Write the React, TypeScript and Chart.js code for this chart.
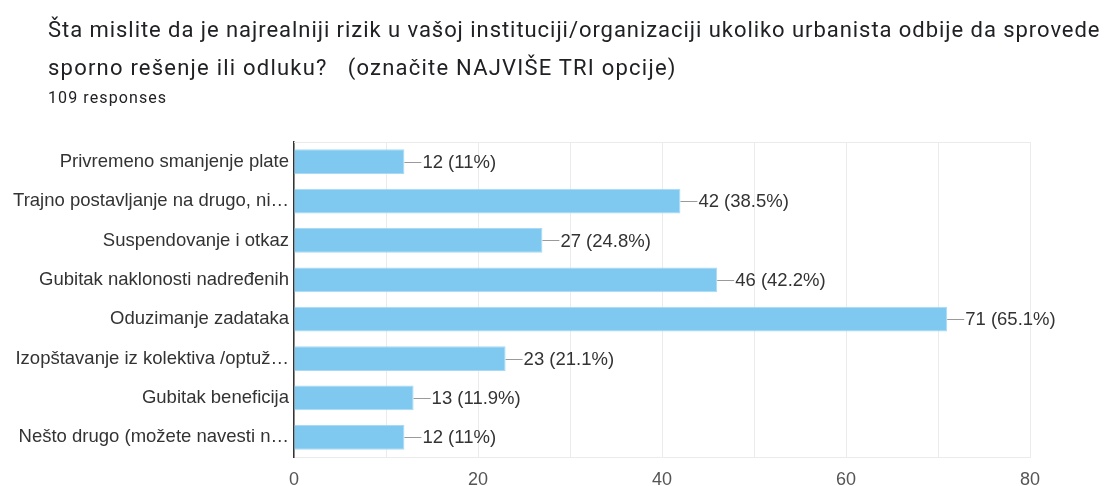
import React, { useEffect, useRef } from "react";
import { Chart, registerables } from "chart.js";

Chart.register(...registerables);

const titleLines = [
  "Šta mislite da je najrealniji rizik u vašoj instituciji/organizaciji ukoliko urbanista odbije da sprovede",
  "sporno rešenje ili odluku?   (označite NAJVIŠE TRI opcije)",
];
const titleSpacing = ["0.95px", "1.22px"];
const subtitle = "109 responses";

const categories = [
  "Privremeno smanjenje plate",
  "Trajno postavljanje na drugo, ni…",
  "Suspendovanje i otkaz",
  "Gubitak naklonosti nadređenih",
  "Oduzimanje zadataka",
  "Izopštavanje iz kolektiva /optuž…",
  "Gubitak beneficija",
  "Nešto drugo (možete navesti n…",
];
const counts = [12, 42, 27, 46, 71, 23, 13, 12];
const percents = ["11", "38.5", "24.8", "42.2", "65.1", "21.1", "11.9", "11"];
const xTickLabels = [0, 20, 40, 60, 80];

const FONT = "'Liberation Sans', Arial, sans-serif";

export default function App() {
  const ref = useRef<HTMLCanvasElement | null>(null);

  useEffect(() => {
    if (!ref.current) return;
    const labelPlugin = {
      id: "barLabels",
      beforeDatasetsDraw(chart: any) {
        const { ctx, chartArea } = chart;
        ctx.save();
        ctx.strokeStyle = "#ebebeb";
        ctx.lineWidth = 1;
        ctx.beginPath();
        ctx.moveTo(chartArea.left, Math.round(chartArea.top) + 0.5);
        ctx.lineTo(chartArea.right, Math.round(chartArea.top) + 0.5);
        ctx.stroke();
        ctx.restore();
      },
      afterDatasetsDraw(chart: any) {
        const { ctx } = chart;
        const meta = chart.getDatasetMeta(0);
        ctx.save();
        ctx.font = `18.5px ${FONT}`;
        ctx.textBaseline = "middle";
        ctx.textAlign = "left";
        meta.data.forEach((bar: any, i: number) => {
          const { x, y } = bar.getProps(["x", "y"], true);
          const yy = Math.round(y) + 0.5;
          ctx.strokeStyle = "#9a9a9a";
          ctx.lineWidth = 1;
          ctx.beginPath();
          ctx.moveTo(x, yy);
          ctx.lineTo(x + 17, yy);
          ctx.stroke();
          ctx.fillStyle = "#333333";
          ctx.fillText(`${counts[i]} (${percents[i]}%)`, x + 18, y + 1);
        });
        ctx.restore();
      },
    };

    const chart = new Chart(ref.current, {
      type: "bar",
      data: {
        labels: categories,
        datasets: [
          {
            data: counts,
            backgroundColor: "#7fc8ef",
            borderColor: "#a9daf5",
            borderWidth: 1,
            categoryPercentage: 1,
            barPercentage: 0.63,
          },
        ],
      },
      options: {
        indexAxis: "y",
        responsive: false,
        animation: false,
        devicePixelRatio: 1,
        layout: { padding: { top: 142, right: 79, left: 0, bottom: 0 } },
        plugins: {
          legend: { display: false },
          tooltip: { enabled: false },
          title: { display: false },
        },
        scales: {
          x: {
            min: 0,
            max: 80,
            ticks: {
              stepSize: 10,
              autoSkip: false,
              maxRotation: 0,
              padding: 12,
              color: "#555555",
              font: { size: 18, family: FONT },
              callback: (v: any) => (xTickLabels.includes(Number(v)) ? String(v) : ""),
            },
            grid: { color: "#ebebeb", drawTicks: false },
            border: { display: true, color: "#ebebeb" },
            afterFit: (s: any) => {
              s.height = 486 - 457;
            },
          },
          y: {
            ticks: {
              padding: 5,
              color: "#333333",
              font: { size: 18.5, family: FONT },
              autoSkip: false,
            },
            grid: { display: false, drawTicks: false },
            border: { display: true, color: "#333333", width: 1.5 },
            afterFit: (s: any) => {
              s.width = 294;
            },
          },
        },
      },
      plugins: [labelPlugin],
    });
    return () => chart.destroy();
  }, []);

  return (
    <div
      style={{
        position: "fixed",
        left: 0,
        top: 0,
        width: 1109,
        height: 486,
        background: "#ffffff",
        overflow: "hidden",
      }}
    >
      <canvas ref={ref} width={1109} height={486} style={{ position: "absolute", left: 0, top: 0 }} />
      <div
        style={{
          position: "absolute",
          left: 48,
          top: 11,
          fontFamily: "Roboto, sans-serif",
          fontSize: 22,
          lineHeight: "38px",
          color: "#202124",
          whiteSpace: "pre",
        }}
      >
        {titleLines.map((t, i) => (
          <div key={i} style={{ letterSpacing: titleSpacing[i] }}>
            {t}
          </div>
        ))}
      </div>
      <div
        style={{
          position: "absolute",
          left: 48,
          top: 87,
          fontFamily: "Roboto, sans-serif",
          fontSize: 16,
          letterSpacing: "1.1px",
          lineHeight: "22px",
          color: "#202124",
          whiteSpace: "pre",
        }}
      >
        {subtitle}
      </div>
    </div>
  );
}
